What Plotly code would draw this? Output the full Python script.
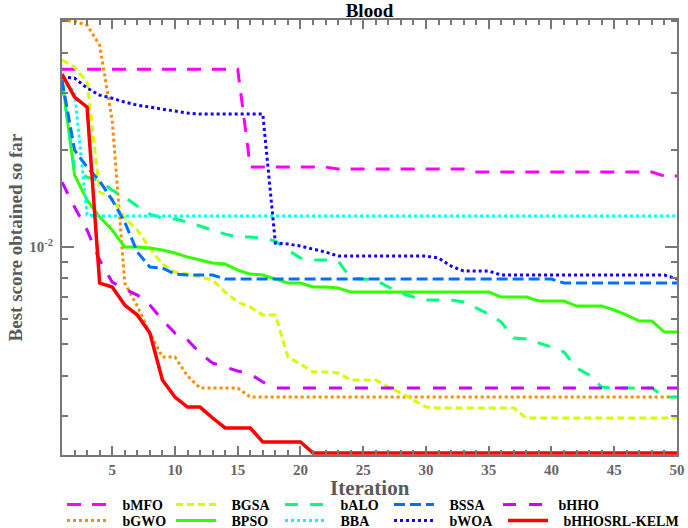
import plotly.graph_objects as go

iterations = list(range(1, 51))

bMFO = [0.03557] * 15 + [0.01769] * 7 + [0.01744] * 11 + [0.01707] * 15 + [0.01659] * 2

bGWO = [0.05044, 0.05008, 0.04867, 0.04222, 0.02474, 0.007737, 0.006567, 0.005415,
        0.004565, 0.004565, 0.003987] + [0.003660] * 4 + [0.003432] * 35

BGSA = [0.03793, 0.03608, 0.03243, 0.01480, 0.01418, 0.01230, 0.01129, 0.009929,
        0.008859, 0.008368, 0.008249, 0.008075, 0.007903, 0.007257, 0.006758, 0.006520,
        0.006159, 0.006159, 0.004565, 0.004342, 0.004102, 0.004102, 0.004073, 0.003874,
        0.003874, 0.003874, 0.003686, 0.003532, 0.003359, 0.003195] + [0.003172] * 7 + [0.002955] * 13

BPSO = [0.03336, 0.01671, 0.01398, 0.01238, 0.01129, 0.01000, 0.01000, 0.009929,
        0.009788, 0.009581, 0.009312, 0.009116, 0.008923, 0.008859, 0.008488, 0.008249,
        0.008190, 0.007960, 0.007737, 0.007737, 0.007520, 0.007520, 0.007467] + \
       [0.007257] * 12 + [0.007003] * 3 + [0.006806] * 3 + [0.006567] * 3 + \
       [0.006383, 0.006159, 0.005901, 0.005901, 0.005454, 0.005454]

bALO = [0.03243, 0.01731, 0.01647, 0.01601, 0.01501, 0.01428, 0.01339, 0.01265,
        0.01230, 0.01221, 0.01195, 0.01162, 0.01129, 0.01097, 0.01074, 0.01074,
        0.01066, 0.01044, 0.009788, 0.009246, 0.009116, 0.009116, 0.009051, 0.008017,
        0.007960, 0.007903, 0.007520, 0.007205, 0.007003, 0.006855, 0.006855, 0.006855,
        0.006758, 0.006474, 0.006203, 0.005859, 0.005226, 0.005189, 0.005043, 0.004901,
        0.004730, 0.004220, 0.004015, 0.003686, 0.003660, 0.003660, 0.003660, 0.003660,
        0.003432, 0.003432]

BBA = [0.03289, 0.03019, 0.01256] + [0.01247] * 47

BSSA = [0.03289, 0.01997, 0.01769, 0.01601, 0.01398, 0.01195, 0.009650, 0.008672,
        0.008610, 0.008249] + [0.008190] * 3 + [0.007960] * 27 + [0.007737] * 10

bWOA = [0.03360, 0.03336, 0.03107, 0.02955, 0.02892, 0.02811, 0.02752, 0.02713,
        0.02675, 0.02637, 0.02600] + [0.02581] * 6 + \
       [0.01029, 0.01022, 0.01007, 0.009858, 0.009650] + [0.009378] * 8 + \
       [0.009246, 0.008734, 0.008427, 0.008427, 0.008427] + [0.008190] * 14 + [0.007960]

bHHO = [0.01589, 0.01330, 0.01129, 0.009116, 0.007792, 0.007413, 0.007103, 0.006614,
        0.005943, 0.005415, 0.005152, 0.004696, 0.004373, 0.004250, 0.004131, 0.004044,
        0.003819] + [0.003660] * 33

bHHOSRL_KELM = [0.03432, 0.02913, 0.02713, 0.007737, 0.007520, 0.006614, 0.006159,
                0.005415, 0.003874, 0.003432, 0.003195, 0.003195, 0.002955, 0.002752,
                0.002752, 0.002752, 0.002490, 0.002490, 0.002490, 0.002490] + [0.002302] * 30

x_major_ticks = [5, 10, 15, 20, 25, 30, 35, 40, 45, 50]
y_major_ticks = [0.01]
y_major_text = ["10<sup>-2</sup>"]
y_minor_ticks = [0.003, 0.004, 0.005, 0.006, 0.007, 0.008, 0.009, 0.02, 0.03, 0.04, 0.05]

SERIF = "Liberation Serif"
PAD = "\u00a0\u00a0\u00a0"

# (name, data, color, dash, width, legend row)
series = [
    ("bMFO", bMFO, "#ff00ff", "14px,11px", 3, "legend"),
    ("bGWO", bGWO, "#ff8c00", "dot", 3, "legend2"),
    ("BGSA", BGSA, "#d4ff00", "7px,4px", 3, "legend"),
    ("BPSO", BPSO, "#33ff00", "solid", 3, "legend2"),
    ("bALO", bALO, "#00ff80", "13px,12px", 3, "legend"),
    ("BBA", BBA, "#00ffff", "dot", 3, "legend2"),
    ("BSSA", BSSA, "#0070ff", "11px,5px", 3, "legend"),
    ("bWOA", bWOA, "#1400ff", "dot", 3, "legend2"),
    ("bHHO", bHHO, "#cc00ff", "13px,13px", 3, "legend"),
    ("bHHOSRL-KELM", bHHOSRL_KELM, "#ff0000", "solid", 3.5, "legend3"),
]

fig = go.Figure()
for name, data, color, dash, width, leg in series:
    fig.add_trace(go.Scatter(
        x=iterations, y=data, mode="lines", name=PAD + name,
        line=dict(color=color, dash=dash, width=width),
        legend=leg,
    ))

axis_gray = "#777777"
label_gray = "#666666"

legend_common = dict(orientation="h", x=0.0, xanchor="left", xref="paper",
                     yref="container", yanchor="middle",
                     entrywidth=54, entrywidthmode="pixels", itemwidth=40,
                     bgcolor="rgba(0,0,0,0)", tracegroupgap=0,
                     font=dict(family=SERIF, size=14, color="black", weight="bold"))

fig.update_layout(
    width=688, height=528,
    margin=dict(l=62, r=11, t=20, b=73, autoexpand=False),
    paper_bgcolor="white", plot_bgcolor="white",
    title=dict(text="Blood", x=0.537, xanchor="center", y=0.981, yanchor="middle",
               font=dict(family=SERIF, size=19, color="black", weight="bold")),
    xaxis=dict(
        range=[1, 50], tickmode="array", tickvals=x_major_ticks, automargin=False,
        ticks="inside", ticklen=9, tickwidth=1.5, tickcolor=axis_gray,
        showline=True, linecolor=axis_gray, linewidth=2, mirror="ticks",
        showgrid=False, zeroline=False,
        tickfont=dict(family=SERIF, size=15, color=label_gray, weight="bold"),
        minor=dict(ticks="inside", dtick=1, ticklen=5, tickwidth=1.5, tickcolor=axis_gray, showgrid=False),
    ),
    yaxis=dict(
        type="log", range=[-2.644, -1.2967], tickmode="array", automargin=False,
        tickvals=y_major_ticks, ticktext=y_major_text,
        ticks="inside", ticklen=12, tickwidth=1.5, tickcolor=axis_gray,
        showline=True, linecolor=axis_gray, linewidth=2, mirror="ticks",
        showgrid=False, zeroline=False, ticklabelstandoff=4,
        tickfont=dict(family=SERIF, size=15, color=label_gray, weight="bold"),
        minor=dict(tickmode="array", tickvals=y_minor_ticks, ticks="inside", ticklen=6,
                   tickwidth=1.5, tickcolor=axis_gray, showgrid=False),
    ),
    legend=dict(legend_common, y=1 - 505 / 528),
    legend2=dict(legend_common, y=1 - 521 / 528),
    legend3=dict(legend_common, y=1 - 521 / 528, x=(503 - 62) / 615, entrywidth=130),
    annotations=[
        dict(text="Iteration", xref="paper", yref="paper", x=0.5, y=-0.077,
             xanchor="center", yanchor="middle", showarrow=False,
             font=dict(family=SERIF, size=21, color="#5a5a5a", weight="bold")),
        dict(text="Best score obtained so far", xref="paper", yref="paper", x=-0.075, y=0.5,
             xanchor="center", yanchor="middle", showarrow=False, textangle=-90,
             font=dict(family=SERIF, size=19, color="#5a5a5a", weight="bold")),
    ],
)

fig.write_html("out.html", config={"displayModeBar": False},
               post_script="document.body.style.margin='0';document.body.style.overflow='hidden';")
